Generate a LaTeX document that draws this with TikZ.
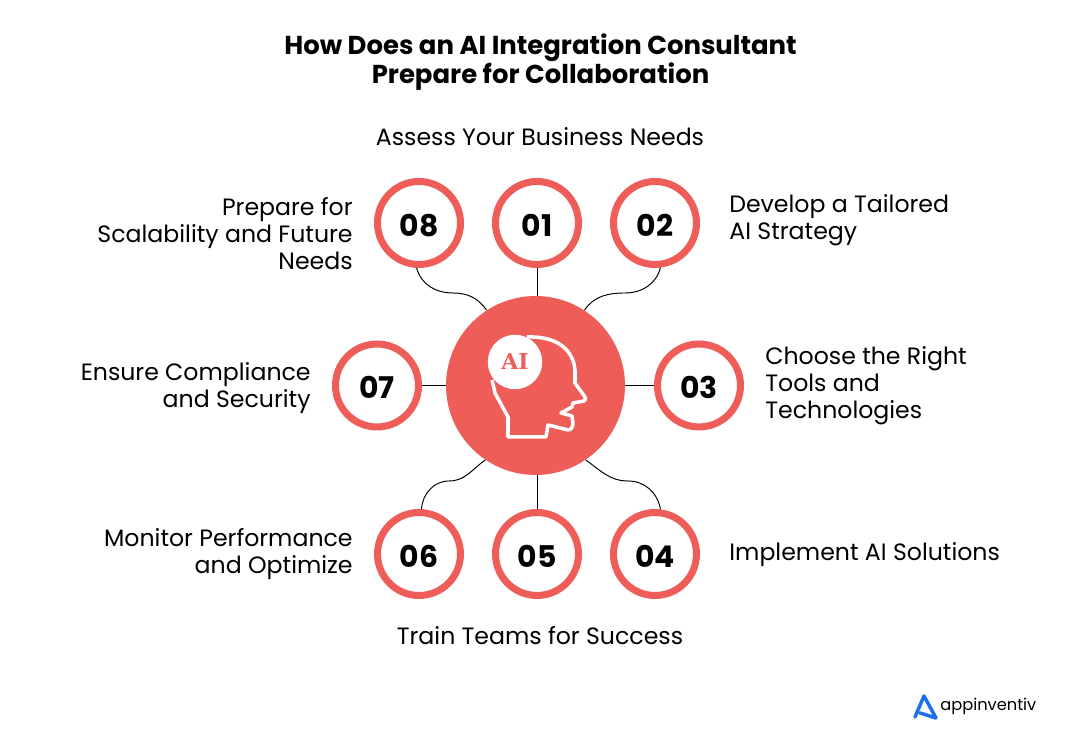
\documentclass[tikz,border=0pt]{standalone}
\usepackage{fontspec}
\setmainfont{Poppins}
\newfontfamily\slabfont{DejaVu Serif}
\usetikzlibrary{arrows}
\definecolor{salmon}{HTML}{EE5D58}
\definecolor{logoblue}{HTML}{1F6FEB}
\tikzset{
  numcircle/.style={circle, draw=salmon, line width=4pt, fill=white, minimum size=1.66cm, inner sep=0pt, text height=15pt, text depth=0pt, font=\fontsize{17}{20}\selectfont\bfseries},
  steplabel/.style={inner sep=0pt, font=\fontsize{13.45}{15.4}\selectfont},
  wire/.style={black, line width=0.55pt}
}
\begin{document}
\begin{tikzpicture}[x=0.02cm, y=0.02cm]
\useasboundingbox (0,0) rectangle (1080,743);
\node [align=center, font=\fontsize{14.75}{16.6}\selectfont\bfseries] (title) at (540.5,681) {How Does an AI Integration Consultant\\Prepare for Collaboration};
% hub and the eight numbers
\node [circle, fill=salmon, minimum size=3.58cm, inner sep=0pt] (hub) at (535.5,357.5) {};
\node [numcircle] (n01) at (537,520) {01};
\node [numcircle] (n02) at (655,520) {02};
\node [numcircle] (n03) at (699,357.5) {03};
\node [numcircle] (n04) at (655,189) {04};
\node [numcircle] (n05) at (537,189) {05};
\node [numcircle] (n06) at (419,189) {06};
\node [numcircle] (n07) at (377,357.5) {07};
\node [numcircle] (n08) at (419,520) {08};
% wires
\coordinate (c02) at (625,450);
\coordinate (c04) at (628,262);
\coordinate (c06) at (449,262);
\coordinate (c08) at (453,450);
\draw [wire] (n01.south) -- (n01.south |- hub.north);
\draw [wire] (n05.north) -- (n05.north |- hub.south);
\draw [wire] (n03.west) -- (hub.east);
\draw [wire] (n07.east) -- (hub.west);
\draw [wire] (n08.267) to [out=285, in=180] (c08) to [out=0, in=125] (hub.123);
\draw [wire] (n02.277) to [out=255, in=0] (c02) to [out=180, in=55] (hub.57);
\draw [wire] (n06.87) to [out=85, in=180] (c06) to [out=0, in=215] (hub.236);
\draw [wire] (n04.83) to [out=100, in=0] (c04) to [out=180, in=325] (hub.304);
% head
\draw [white, line width=2pt, line join=round] (492,363) -- (495,350) -- (508,326) -- (508,306) -- (546,306) -- (548,318) -- (568,313) to [out=0, in=270] (573,320) -- (572,327) -- (561,330) -- (572,336) -- (573,340) -- (584,342) to [out=10, in=300] (585,346) -- (575,360) -- (575,373) .. controls (573,395) and (555,407) .. (527,406);
\node [circle, fill=white, minimum size=1.09cm, inner sep=0pt, text=salmon, font=\fontsize{12.5}{14}\slabfont\bfseries] (ai) at (515,381) {AI};
% labels
\node [steplabel] (t01) at (540,606) {Assess Your Business Needs};
\node [steplabel, anchor=west, align=left] (t02) at (729,523) {Develop a Tailored\\AI Strategy};
\node [steplabel, anchor=west, align=left] (t03) at (765,357) {Choose the Right\\Tools and\\Technologies};
\node [steplabel, anchor=west] (t04) at (729,188) {Implement AI Solutions};
\node [steplabel] (t05) at (540,107) {Train Teams for Success};
\node [steplabel, anchor=east, align=right] (t06) at (353,189) {Monitor Performance\\and Optimize};
\node [steplabel, anchor=east, align=right] (t07) at (311,355) {Ensure Compliance\\and Security};
\node [steplabel, anchor=east, align=right] (t08) at (353,509) {Prepare for\\Scalability and Future\\Needs};
% logo
\draw [logoblue, line width=2pt, line join=round, line cap=round] (915,26) -- (924,47) -- (936,25) -- (920,30);
\node [anchor=west, inner sep=0pt, font=\fontsize{9.25}{12}\selectfont] (logo) at (940,37) {appinventiv};
\end{tikzpicture}
\end{document}
